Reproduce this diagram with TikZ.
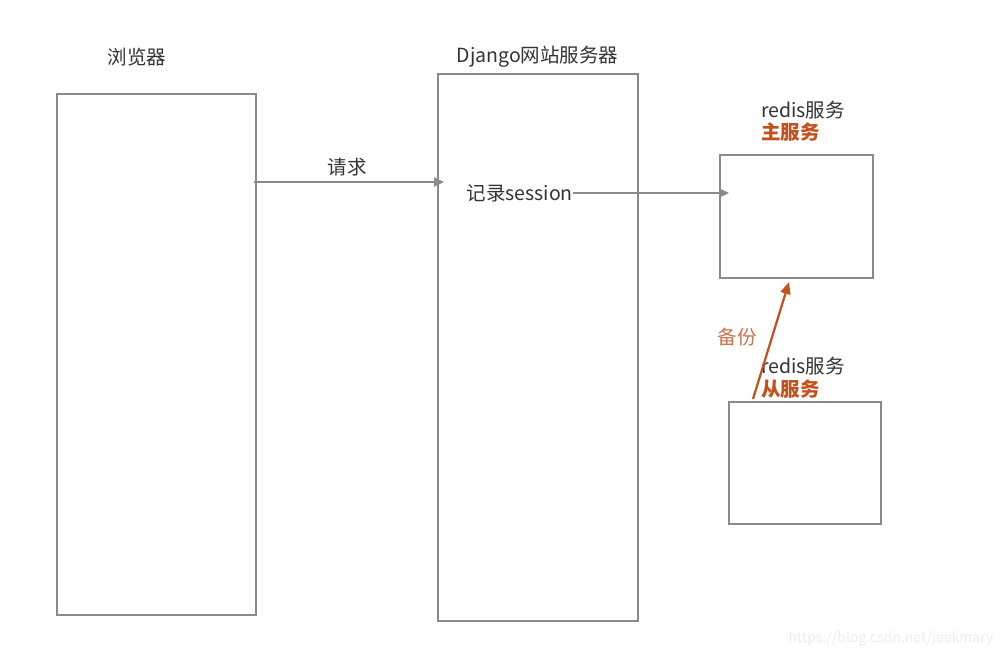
\documentclass[tikz,border=0pt]{standalone}
\usepackage{fontspec}
\setmainfont{Noto Sans CJK SC}
\usetikzlibrary{arrows.meta}
\definecolor{boxgray}{HTML}{8A8A8A}
\definecolor{txtgray}{HTML}{333333}
\definecolor{orangeA}{HTML}{C4501E}
\definecolor{orangeB}{HTML}{C8744C}
\definecolor{wm}{HTML}{EDEDED}
\tikzset{
  box/.style={draw=boxgray, line width=2.2pt, inner sep=0pt},
  lbl/.style={text=txtgray, font=\fontsize{19.5}{22}\selectfont, inner sep=0pt},
  olbl/.style={text=orangeA, font=\fontsize{19.5}{22}\selectfont\bfseries, inner sep=0pt},
  garrow/.style={draw=boxgray, line width=2pt, -{Triangle[length=10pt,width=9pt]}},
  oarrow/.style={draw=orangeA, line width=2.2pt, -{Triangle[length=12pt,width=10pt]}},
}
\begin{document}
\begin{tikzpicture}[x=1pt,y=-1pt]
\useasboundingbox (0,0) rectangle (1006,658);
\fill[white] (0,0) rectangle (1006,658);
% boxes
\node[box, minimum width=199pt, minimum height=521pt] (browser) at (156.5,354.5) {};
\node[box, minimum width=200pt, minimum height=547pt] (django) at (538,347.5) {};
\node[box, minimum width=153pt, minimum height=123pt] (master) at (796.5,216.5) {};
\node[box, minimum width=152pt, minimum height=122pt] (slave) at (805,463) {};
% titles
\node[lbl] (tbrowser) at (137,57) {浏览器};
\node[lbl] (tdjango) at (537.5,57) {Django网站服务器};
\node[lbl, anchor=west] (tmaster) at (761,110) {redis服务};
\node[olbl, anchor=west] (tmaster2) at (761,132) {主服务};
\node[lbl, anchor=west] (tslave) at (761,366) {redis服务};
\node[olbl, anchor=west] (tslave2) at (761,389) {从服务};
% request arrow
\coordinate (rq1) at (254,182);
\coordinate (rq2) at (444,182);
\draw[garrow] (rq1) -- (rq2);
\node[lbl] (treq) at (347,167) {请求};
% session arrow
\node[lbl, anchor=east] (tsess) at (573,193) {记录session};
\coordinate (ss2) at (729,193);
\draw[garrow] (tsess.east) -- (ss2);
% backup arrow
\coordinate (bk1) at (753,399);
\coordinate (bk2) at (789,282);
\draw[oarrow] (bk1) -- (bk2);
\node[lbl, text=orangeB, font=\fontsize{19.5}{22}\selectfont] (tbk) at (737,337) {备份};
% watermark
\node[inner sep=0pt, text=wm, font=\fontsize{14}{17}\selectfont] (wmark) at (891,639) {https://blog.csdn.net/jeekmary};
\end{tikzpicture}
\end{document}
